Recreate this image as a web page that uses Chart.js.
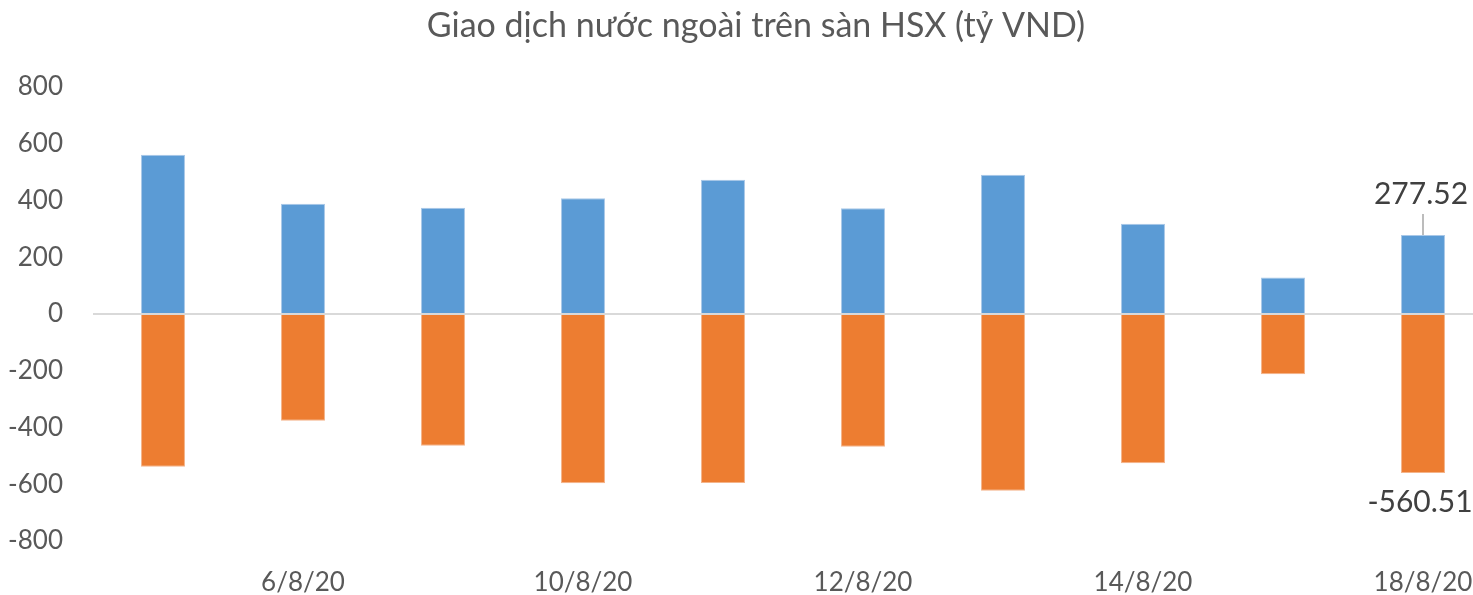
<!doctype html>
<html>
  <head>
    <script src="https://cdn.jsdelivr.net/npm/chart.js"></script>
    <style>
      body { margin: 0; overflow: hidden; background: #fff; }
      #drawhere { display: block; }
    </style>
    <title>Giao dich nuoc ngoai</title>
  </head>
  <body>
    <canvas id="drawhere" width="1512" height="595"></canvas>
    <script>
      // ngay giao dich (chi hien nhan o cac cot le)
      var days = ['5/8/20','6/8/20','7/8/20','10/8/20','11/8/20','12/8/20','13/8/20','14/8/20','17/8/20','18/8/20'];
      var buyVals = [560.4, 387.7, 373.6, 407.8, 472.2, 372.5, 489.9, 317.2, 127.9, 277.52];
      var sellVals = [-538.1, -376.0, -464.1, -596.7, -595.6, -467.7, -622.7, -526.2, -212.5, -560.51];
      var yTicks = [-800, -600, -400, -200, 0, 200, 400, 600, 800];

      var txtcolor = '#595959';
      var fontname = 'Lato, "Open Sans", sans-serif';

      // nhan so lieu cho cot cuoi cung
      var lastLabels = {
        id: 'lastLabels',
        afterLayout: function(chart) {
          // tieu de can giua toan bo khung, khong tru padding phai
          if (chart.titleBlock) chart.titleBlock.right = chart.width;
        },
        afterDatasetsDraw: function(chart) {
          var ctx = chart.ctx;
          var last = days.length - 1;
          var up = chart.getDatasetMeta(0).data[last];
          var down = chart.getDatasetMeta(1).data[last];
          ctx.save();
          ctx.fillStyle = '#404040';
          ctx.font = '30px ' + fontname;
          ctx.textAlign = 'center';
          ctx.textBaseline = 'middle';
          ctx.fillText(buyVals[last].toFixed(2), up.x - 2, up.y - 41);
          ctx.fillText(sellVals[last].toFixed(2), down.x - 3, down.y + 29);
          ctx.strokeStyle = '#a6a6a6';
          ctx.lineWidth = 1.5;
          ctx.beginPath();
          ctx.moveTo(up.x, up.y - 21);
          ctx.lineTo(up.x, up.y);
          ctx.stroke();
          ctx.restore();
        }
      };

      var thechart = new Chart(drawhere, {
        type: 'bar',
        data: {
          labels: days,
          datasets: [
            { label: 'Mua', data: buyVals, backgroundColor: '#5B9BD5', borderColor: '#a9c8e8', borderWidth: 1,
              barPercentage: 0.314, categoryPercentage: 1 },
            { label: 'Ban', data: sellVals, backgroundColor: '#ED7D31', borderColor: '#f4b48a', borderWidth: 1,
              barPercentage: 0.314, categoryPercentage: 1 }
          ]
        },
        options: {
          responsive: false,
          animation: false,
          layout: { padding: { left: 0, right: 19, top: 0, bottom: 0 } },
          plugins: {
            legend: { display: false },
            tooltip: { enabled: false },
            title: {
              display: true,
              text: 'Giao dịch nước ngoài trên sàn HSX (tỷ VND)',
              color: txtcolor,
              font: { family: fontname, size: 34, weight: 'normal' },
              padding: { top: 6, bottom: 40 }
            }
          },
          scales: {
            x: {
              stacked: true,
              border: { display: false },
              grid: { display: false, drawTicks: false },
              ticks: {
                autoSkip: false,
                maxRotation: 0,
                padding: 26,
                color: txtcolor,
                font: { family: fontname, size: 26 },
                callback: function(v, i) { return i % 2 == 1 ? days[i] : ''; }
              },
              afterFit: function(s) { s.height = 54; }
            },
            y: {
              stacked: true,
              min: -800,
              max: 800,
              border: { display: false },
              grid: {
                drawTicks: false,
                lineWidth: 2,
                color: function(c) { return c.tick && c.tick.value === 0 ? '#d9d9d9' : 'rgba(0,0,0,0)'; }
              },
              afterBuildTicks: function(s) { s.ticks = yTicks.map(function(v) { return { value: v }; }); },
              ticks: {
                padding: 30,
                color: txtcolor,
                font: { family: fontname, size: 26 }
              },
              afterFit: function(s) { s.width = 93; }
            }
          }
        },
        plugins: [lastLabels]
      });
    </script>
  </body>
</html>
